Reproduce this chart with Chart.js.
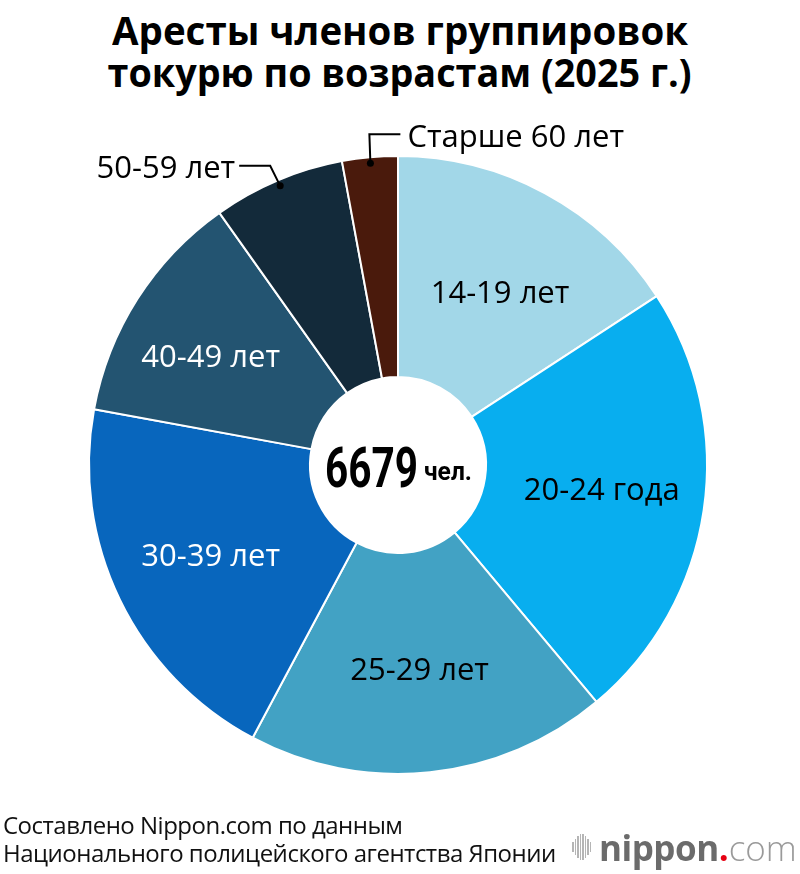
<!DOCTYPE html>
<html>
<head>
<meta charset="utf-8">
<script src="https://cdn.jsdelivr.net/npm/chart.js@4"></script>
<style>
  body { margin: 0; background: #fff; width: 800px; height: 874px; overflow: hidden; position: relative; font-family: "Open Sans", sans-serif; }
  #chartWrap { position: absolute; left: 0; top: 0; width: 800px; height: 874px; }
  .title { position: absolute; left: 0; width: 800px; top: 9px; text-align: center; font-family: "Open Sans", sans-serif; font-weight: bold; font-size: 39px; line-height: 42px; color: #000; }
  .title span { display: inline-block; white-space: nowrap; transform-origin: center; }
  .source { position: absolute; left: 3px; top: 811px; font-size: 24px; line-height: 28px; color: #111; letter-spacing: -0.5px; }
  .logo { position: absolute; left: 572px; top: 827px; height: 40px; display: flex; align-items: center; }
  .bars { display: flex; align-items: center; gap: 1px; margin-right: 8px; }
  .bars span { display: block; width: 1.5px; background: #b5b5b5; }
  .logo .n { font-size: 35px; font-weight: bold; color: #6b6b6b; letter-spacing: -0.5px; }
  .logo .dot { font-size: 35px; font-weight: bold; color: #e60012; }
  .logo .com { font-size: 35px; font-weight: 300; color: #9a9a9a; }
</style>
</head>
<body>
<div class="title"><span id="t1">Аресты членов группировок</span><br><span id="t2">токурю по возрастам (2025 г.)</span></div>
<div id="chartWrap"><canvas id="pieChart" width="800" height="874"></canvas></div>
<div class="source">Составлено Nippon.com по данным<br>Национального полицейского агентства Японии</div>
<div class="logo">
  <div class="bars"><span style="height:10px"></span><span style="height:16px"></span><span style="height:22px"></span><span style="height:26px"></span><span style="height:26px"></span><span style="height:22px"></span><span style="height:16px"></span><span style="height:10px"></span></div>
  <span class="n">nippon</span><span class="dot">.</span><span class="com">com</span>
</div>
<script>
const ageGroups = ["14-19 лет", "20-24 года", "25-29 лет", "30-39 лет", "40-49 лет", "50-59 лет", "Старше 60 лет"];
const arrests = [1055, 1543, 1262, 1342, 822, 461, 194];
const sliceColors = ["#a2d7e8", "#08aeef", "#42a2c4", "#0866bd", "#235471", "#132a3a", "#4a1a0c"];
const labelColors = ["#000", "#000", "#000", "#fff", "#fff", "#000", "#000"];
// small hand nudges for the inner labels (px)
const labelNudge = [[3, 10], [-2, -6], [0, -3], [0, 0], [-12, 3]];
const totalLabel = "6679";
const unitLabel = "чел.";

// squeeze the title lines to the condensed width of the original
[["t1", 576], ["t2", 584]].forEach(([id, w]) => {
  const el = document.getElementById(id);
  el.style.transform = "scaleX(" + (w / el.getBoundingClientRect().width) + ")";
});

function condensedText(ctx, text, x, y, font, width) {
  ctx.font = font;
  const s = width / ctx.measureText(text).width;
  ctx.save();
  ctx.translate(x, y);
  ctx.scale(s, 1);
  ctx.fillText(text, 0, 0);
  ctx.restore();
}

// labels drawn on/around the slices + the total in the hole
const sliceLabels = {
  id: "sliceLabels",
  afterDatasetsDraw(chart) {
    const ctx = chart.ctx;
    const arcs = chart.getDatasetMeta(0).data;
    ctx.save();
    ctx.textBaseline = "middle";
    arcs.forEach((arc, i) => {
      const p = arc.getProps(["x", "y", "startAngle", "endAngle", "outerRadius"], true);
      const mid = (p.startAngle + p.endAngle) / 2;
      ctx.font = "31px 'Open Sans'";
      if (i < 5) {
        const r = 208;
        ctx.fillStyle = labelColors[i];
        ctx.textAlign = "center";
        ctx.fillText(ageGroups[i], p.x + Math.cos(mid) * r + labelNudge[i][0], p.y + Math.sin(mid) * r + 2 + labelNudge[i][1]);
        return;
      }
      // outside labels with leader lines
      const r = p.outerRadius - 6;
      const dx = p.x + Math.cos(mid) * r;
      const dy = p.y + Math.sin(mid) * r;
      ctx.strokeStyle = "#000";
      ctx.lineWidth = 2;
      ctx.fillStyle = "#000";
      ctx.beginPath();
      ctx.arc(dx, dy, 3.5, 0, Math.PI * 2);
      ctx.fill();
      ctx.beginPath();
      if (i === 5) {
        ctx.moveTo(dx, dy);
        ctx.lineTo(dx - 10, dy - 20);
        ctx.lineTo(dx - 41, dy - 20);
        ctx.stroke();
        ctx.textAlign = "right";
        ctx.fillText(ageGroups[i], dx - 45, dy - 17);
      } else {
        ctx.moveTo(dx, dy);
        ctx.lineTo(dx - 1, dy - 29);
        ctx.lineTo(dx + 30, dy - 29);
        ctx.stroke();
        ctx.textAlign = "left";
        ctx.fillText(ageGroups[i], dx + 37, dy - 25);
      }
    });
    // total in the hole
    const c = arcs[0];
    ctx.fillStyle = "#000";
    ctx.textAlign = "left";
    ctx.textBaseline = "alphabetic";
    condensedText(ctx, totalLabel, c.x - 73, c.y + 22, "bold 56px Roboto", 93);
    condensedText(ctx, unitLabel, c.x + 26, c.y + 15, "bold 25px Roboto", 48);
    ctx.restore();
  }
};

new Chart(document.getElementById("pieChart"), {
  type: "doughnut",
  data: {
    labels: ageGroups,
    datasets: [{
      data: arrests,
      backgroundColor: sliceColors,
      borderColor: "#fff",
      borderWidth: 2,
    }],
  },
  options: {
    responsive: false,
    animation: false,
    cutout: 88,
    layout: { padding: { left: 88, right: 92, top: 155, bottom: 99 } },
    plugins: {
      legend: { display: false },
      tooltip: { enabled: false },
      title: { display: false },
    },
  },
  plugins: [sliceLabels],
});
</script>
</body>
</html>
